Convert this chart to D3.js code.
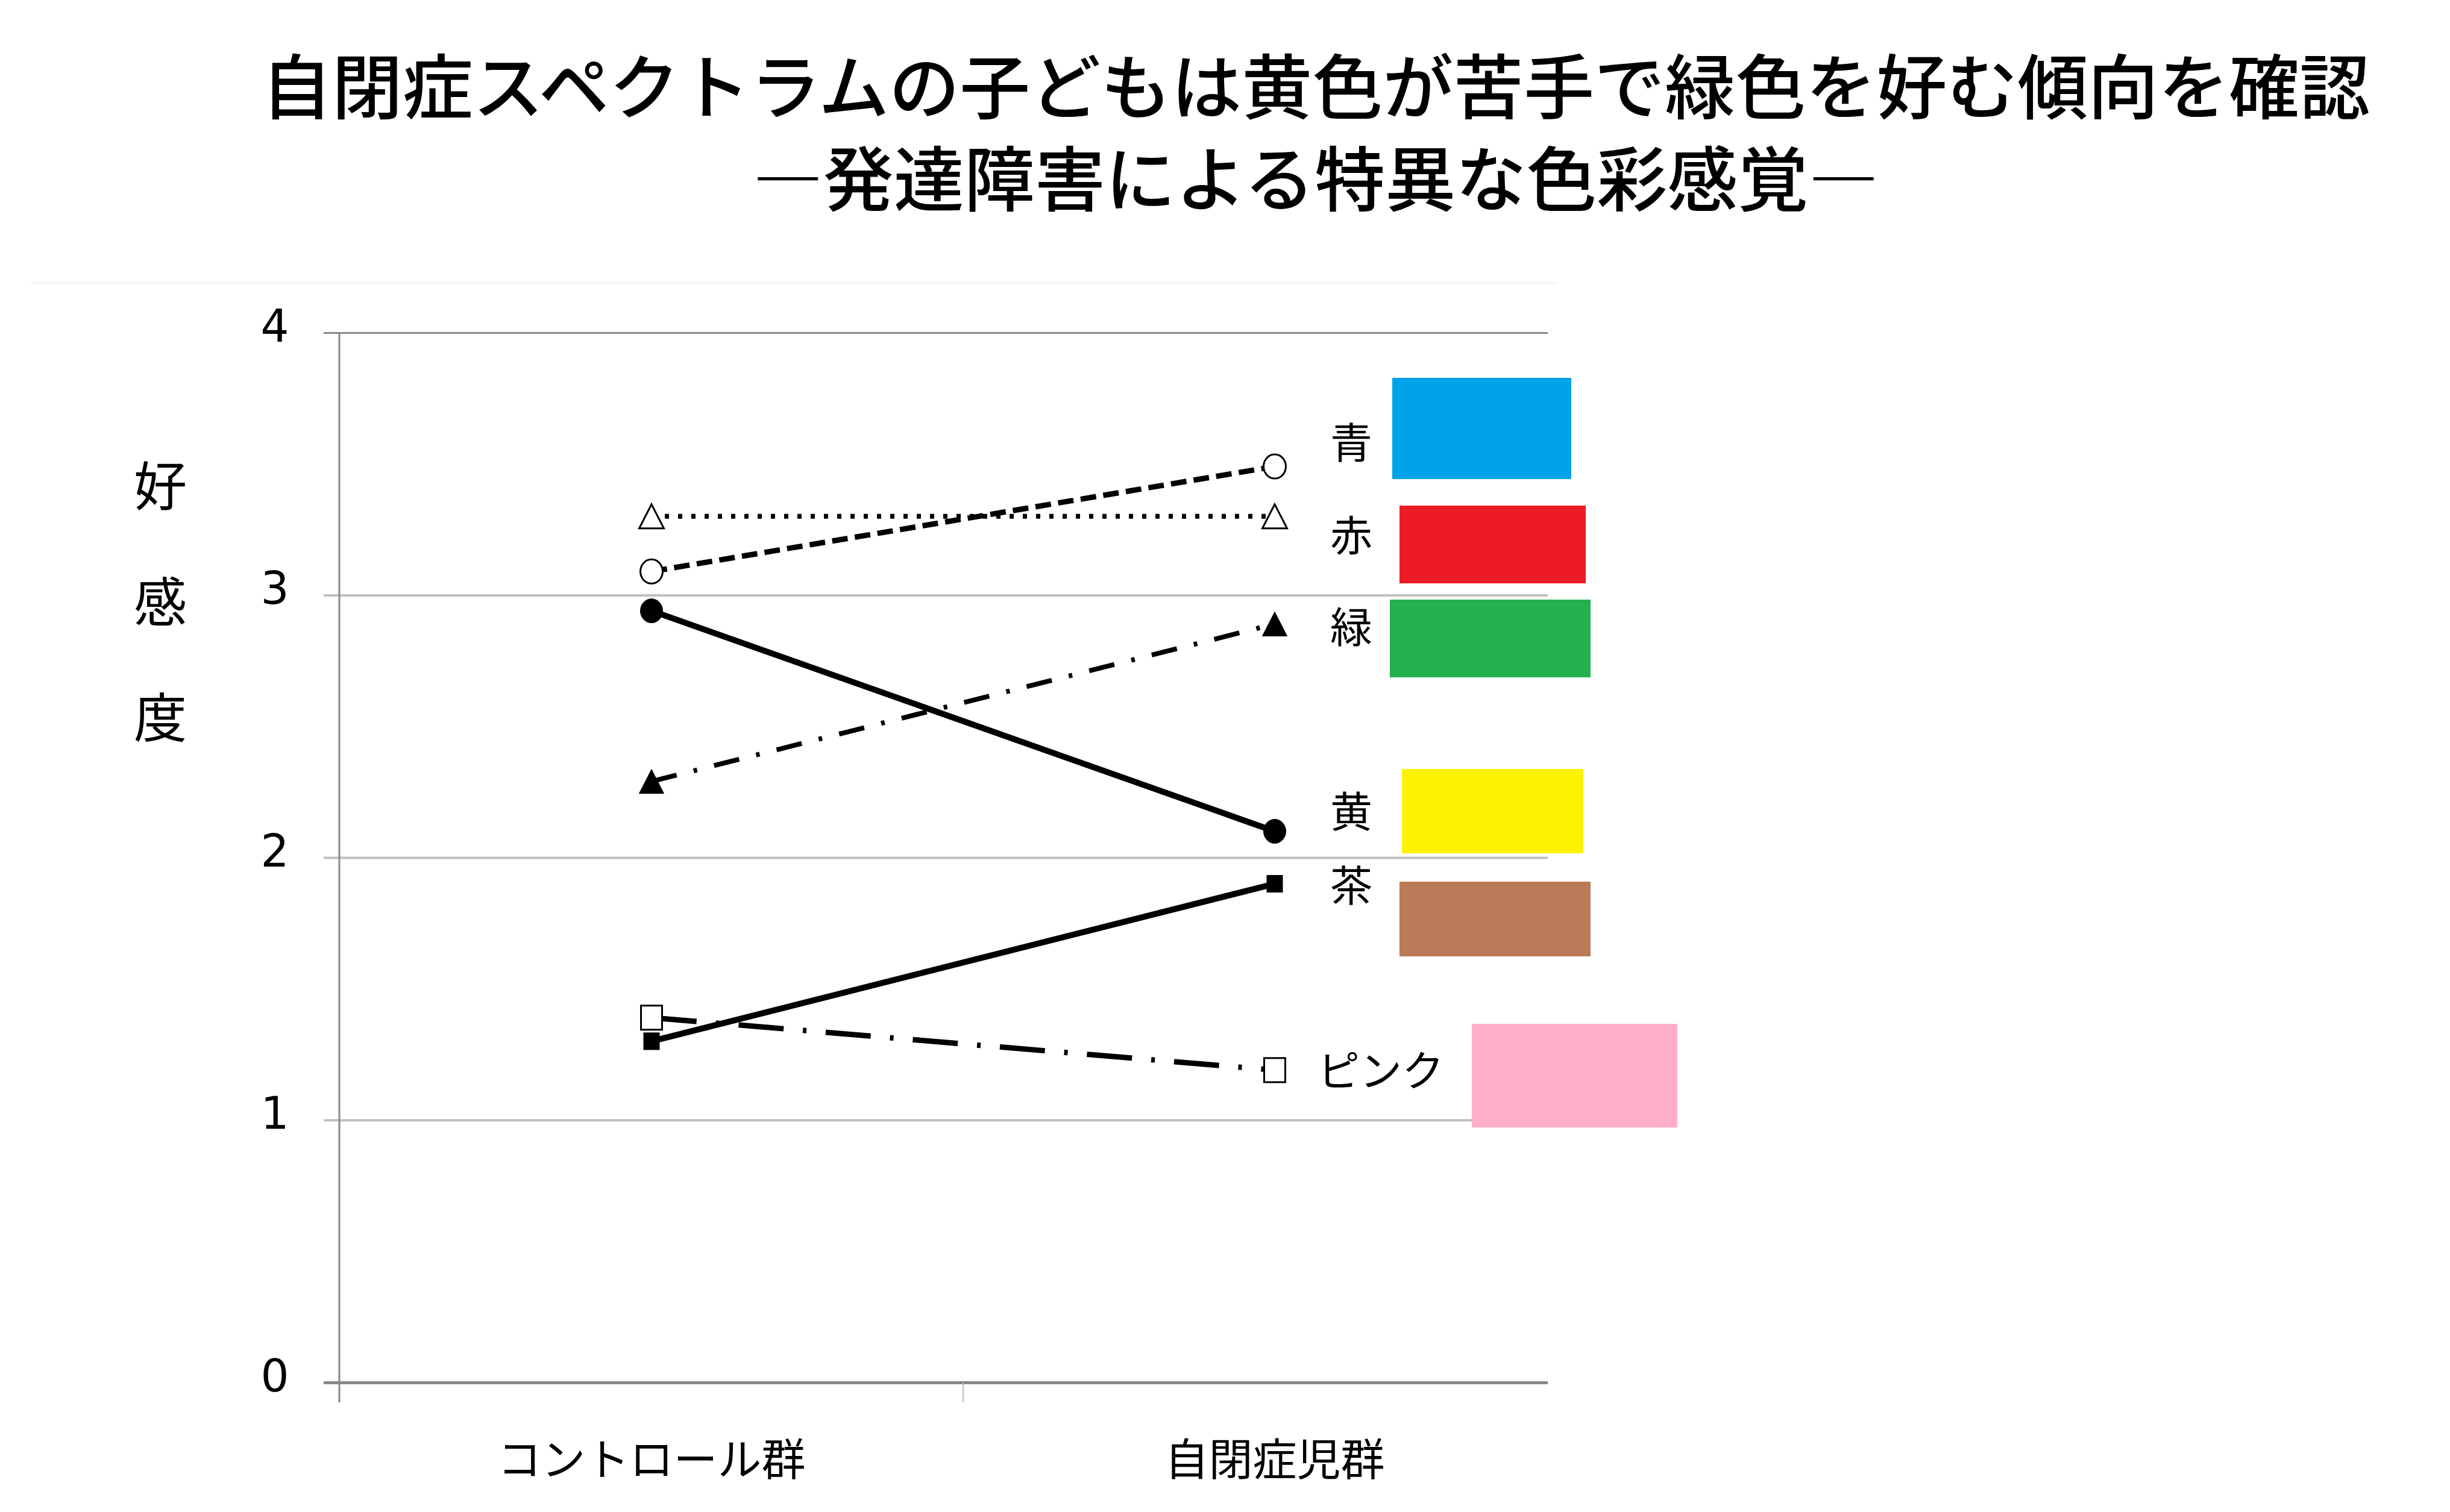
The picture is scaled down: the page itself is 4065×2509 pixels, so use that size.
<!DOCTYPE html>
<html lang="ja">
<head>
<meta charset="utf-8">
<script src="https://cdn.jsdelivr.net/npm/d3@7"></script>
<style>
  body { margin: 0; background: #fff; }
  text { font-family: "Noto Sans CJK JP", sans-serif; fill: #000; }
</style>
</head>
<body>
<div id="chart"></div>
<script>
// chart data
var titleLines = ["自閉症スペクトラムの子どもは黄色が苦手で緑色を好む傾向を確認", "―発達障害による特異な色彩感覚―"];
var groups = ["コントロール群", "自閉症児群"];
var colorNames = ["青", "赤", "緑", "黄", "茶", "ピンク"];
var controlScores = [3.09, 3.3, 2.29, 2.94, 1.3, 1.39];
var autismScores = [3.49, 3.3, 2.89, 2.1, 1.9, 1.19];
var swatchColors = ["#00a2e8", "#ed1c24", "#22b14c", "#fff200", "#b97a57", "#ffaec9"];
var yTicks = [0, 1, 2, 3, 4];
var yLabel = ["好", "感", "度"];

// look of each series
var markers = ["circleOpen", "triangleOpen", "triangle", "circle", "squareSmall", "squareOpen"];
var dashes = ["26,12", "7,15", "43,29,6,29", null, null, "75,32,6,32"];
var strokeWidths = [9, 8, 8, 10, 10, 9];

// layout of the hand-placed colour legend
var labelPos = [[2242, 734], [2242, 888], [2242, 1040], [2242, 1346], [2242, 1469], [2291, 1776]];
var swatchRects = [[2310, 627, 297, 168], [2322, 839, 309, 129], [2306, 995, 333, 129],
                   [2326, 1276, 301, 140], [2322, 1463, 317, 124], [2442, 1699, 341, 172]];

var W = 4065, H = 2509;
var plotLeft = 563, plotRight = 2568, gridStart = 537;

var svg = d3.select("#chart")
  .append("svg")
  .attr("width", W)
  .attr("height", H);

svg.append("rect").attr("width", W).attr("height", H).attr("fill", "#fff");

// Title
svg.selectAll(".title")
  .data(titleLines)
  .enter().append("text")
  .attr("class", "title")
  .attr("x", 2183)
  .attr("y", function (d, i) { return i === 0 ? 188 : 341; })
  .attr("text-anchor", "middle")
  .style("font-size", "117px")
  .style("font-weight", "500")
  .text(function (d) { return d; });

// faint frame line above the plot
svg.append("line")
  .attr("x1", 50).attr("x2", 2585)
  .attr("y1", 470).attr("y2", 470)
  .attr("stroke", "#f4f4f4").attr("stroke-width", 3);

// Scales
var x = d3.scaleBand().domain(groups).range([564, 2632]);
var y = d3.scaleLinear().domain([0, 4]).range([2294, 552]);
function cx(g) { return x(g) + x.bandwidth() / 2; }

// Y axis with gridlines
var yAxis = svg.append("g")
  .attr("transform", "translate(" + gridStart + ",0)")
  .call(d3.axisLeft(y).tickValues(yTicks).tickSize(-(plotRight - gridStart)).tickFormat(d3.format("d")));
yAxis.select(".domain").remove();
yAxis.selectAll(".tick line")
  .attr("stroke", function (d) { return d === 4 || d === 0 ? "#888" : "#c0c0c0"; })
  .attr("stroke-width", function (d) { return d === 0 ? 5 : (d === 4 ? 3 : 4); });
yAxis.selectAll(".tick text")
  .attr("x", -81)
  .attr("dy", "0.19em")
  .attr("text-anchor", "middle")
  .style("font-family", "'DejaVu Sans', Verdana, sans-serif")
  .style("font-size", "74px")
  .style("fill", "#000");

// left axis line
svg.append("line")
  .attr("x1", plotLeft).attr("x2", plotLeft)
  .attr("y1", y(4)).attr("y2", y(0) + 33)
  .attr("stroke", "#888").attr("stroke-width", 3);

// category boundary tick
svg.append("line")
  .attr("x1", x(groups[1])).attr("x2", x(groups[1]))
  .attr("y1", y(0)).attr("y2", y(0) + 33)
  .attr("stroke", "#bbb").attr("stroke-width", 2);

// X axis labels
var xAxis = svg.append("g")
  .attr("transform", "translate(0," + y(0) + ")")
  .call(d3.axisBottom(x).tickSize(0).tickPadding(102));
xAxis.select(".domain").remove();
xAxis.selectAll(".tick text")
  .style("font-family", "'Noto Sans CJK JP', sans-serif")
  .style("font-size", "73px")
  .style("fill", "#000");

// Y axis title, stacked vertically
svg.selectAll(".ylab")
  .data(yLabel)
  .enter().append("text")
  .attr("class", "ylab")
  .attr("x", 266)
  .attr("y", function (d, i) { return 839 + i * 192; })
  .attr("text-anchor", "middle")
  .style("font-size", "88px")
  .text(function (d) { return d; });

// Series lines
var line = d3.line()
  .x(function (d) { return cx(d.group); })
  .y(function (d) { return y(d.value); });

var series = colorNames.map(function (name, i) {
  return {
    name: name, i: i,
    points: [{ group: groups[0], value: controlScores[i] }, { group: groups[1], value: autismScores[i] }]
  };
});

svg.selectAll(".series")
  .data(series)
  .enter().append("path")
  .attr("class", "series")
  .attr("fill", "none")
  .attr("stroke", "#000")
  .attr("stroke-width", function (d) { return strokeWidths[d.i]; })
  .attr("stroke-dasharray", function (d) { return dashes[d.i]; })
  .attr("d", function (d) { return line(d.points); });

// Markers
var pts = [];
series.forEach(function (s) {
  s.points.forEach(function (p) { pts.push({ kind: markers[s.i], group: p.group, value: p.value }); });
});

svg.selectAll(".marker")
  .data(pts)
  .enter().append("g")
  .attr("class", "marker")
  .attr("transform", function (d) { return "translate(" + cx(d.group) + "," + y(d.value) + ")"; })
  .each(function (d) {
    var g = d3.select(this);
    var open = d.kind.indexOf("Open") >= 0;
    var fill = open ? "#fff" : "#000";
    if (d.kind.indexOf("circle") === 0) {
      g.append("ellipse").attr("rx", 18.5).attr("ry", 20);
    } else if (d.kind.indexOf("triangle") === 0) {
      g.append("path").attr("d", "M0,-20L20.5,20L-20.5,20Z");
    } else if (d.kind === "squareSmall") {
      g.append("rect").attr("x", -13).attr("y", -14).attr("width", 26).attr("height", 28);
    } else {
      g.append("rect").attr("x", -17.5).attr("y", -20).attr("width", 35).attr("height", 40);
    }
    g.selectAll("*")
      .attr("fill", fill)
      .attr("stroke", "#000")
      .attr("stroke-width", open ? 3 : 1);
  });

// Colour legend: names and swatches
svg.selectAll(".cname")
  .data(colorNames)
  .enter().append("text")
  .attr("class", "cname")
  .attr("x", function (d, i) { return labelPos[i][0]; })
  .attr("y", function (d, i) { return labelPos[i][1] + 27; })
  .attr("text-anchor", "middle")
  .style("font-size", "70px")
  .text(function (d) { return d; });

svg.selectAll(".swatch")
  .data(swatchColors)
  .enter().append("rect")
  .attr("class", "swatch")
  .attr("x", function (d, i) { return swatchRects[i][0]; })
  .attr("y", function (d, i) { return swatchRects[i][1]; })
  .attr("width", function (d, i) { return swatchRects[i][2]; })
  .attr("height", function (d, i) { return swatchRects[i][3]; })
  .attr("fill", function (d) { return d; });
</script>
</body>
</html>
